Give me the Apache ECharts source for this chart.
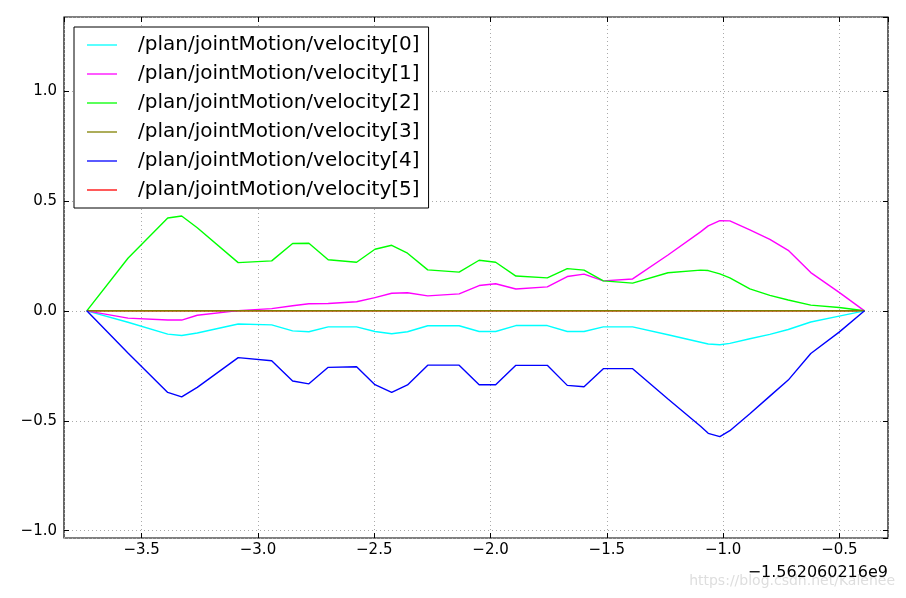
<!DOCTYPE html>
<html>
<head>
<meta charset="utf-8">
<script src="https://cdn.jsdelivr.net/npm/echarts@6/dist/echarts.min.js"></script>
<style>
html,body{margin:0;padding:0;background:#fff;}
#chart{width:906px;height:598px;}
</style>
</head>
<body>
<div id="chart"></div>
<script>
// time offsets (seconds, relative to -1.562060216e9)
var times = [-3.736, -3.559, -3.388, -3.328, -3.261, -3.085, -2.941, -2.851, -2.781, -2.698,
  -2.576, -2.497, -2.425, -2.357, -2.270, -2.135, -2.049, -1.978, -1.891, -1.756,
  -1.670, -1.598, -1.515, -1.389, -1.237, -1.097, -1.064, -1.014, -0.971, -0.885,
  -0.799, -0.720, -0.623, -0.501, -0.392];

var names = ['/plan/jointMotion/velocity[0]', '/plan/jointMotion/velocity[1]',
  '/plan/jointMotion/velocity[2]', '/plan/jointMotion/velocity[3]',
  '/plan/jointMotion/velocity[4]', '/plan/jointMotion/velocity[5]'];

var vel0 = [0, -0.052, -0.106, -0.112, -0.101, -0.060, -0.064, -0.091, -0.095, -0.073,
  -0.073, -0.094, -0.104, -0.095, -0.068, -0.068, -0.094, -0.094, -0.067, -0.067,
  -0.094, -0.094, -0.073, -0.073, -0.109, -0.143, -0.151, -0.154, -0.148, -0.127,
  -0.107, -0.085, -0.051, -0.024, 0];
var vel1 = [0, -0.033, -0.042, -0.042, -0.020, 0.001, 0.010, 0.023, 0.032, 0.033,
  0.041, 0.060, 0.080, 0.082, 0.068, 0.077, 0.115, 0.123, 0.099, 0.109,
  0.156, 0.167, 0.136, 0.145, 0.254, 0.359, 0.386, 0.410, 0.409, 0.368,
  0.325, 0.275, 0.174, 0.084, 0];
var vel2 = [0, 0.239, 0.422, 0.431, 0.378, 0.219, 0.227, 0.306, 0.307, 0.232,
  0.221, 0.280, 0.298, 0.262, 0.186, 0.176, 0.230, 0.221, 0.158, 0.150,
  0.192, 0.185, 0.136, 0.126, 0.173, 0.185, 0.183, 0.168, 0.150, 0.100,
  0.070, 0.049, 0.026, 0.015, 0];
var vel3 = [0, 0, 0, 0, 0, 0, 0, 0, 0, 0, 0, 0, 0, 0, 0, 0, 0, 0, 0, 0,
  0, 0, 0, 0, 0, 0, 0, 0, 0, 0, 0, 0, 0, 0, 0];
var vel4 = [0, -0.192, -0.371, -0.391, -0.348, -0.213, -0.227, -0.319, -0.332, -0.257,
  -0.254, -0.336, -0.371, -0.337, -0.247, -0.247, -0.336, -0.336, -0.248, -0.248,
  -0.339, -0.345, -0.263, -0.263, -0.401, -0.525, -0.557, -0.572, -0.545, -0.468,
  -0.388, -0.315, -0.194, -0.097, 0];
var vel5 = [0, 0, 0, 0, 0, 0, 0, 0, 0, 0, 0, 0, 0, 0, 0, 0, 0, 0, 0, 0,
  0, 0, 0, 0, 0, 0, 0, 0, 0, 0, 0, 0, 0, 0, 0];

var colors = ['#00ffff', '#ff00ff', '#00ff00', '#808000', '#0000ff', '#ff0000'];
var allVals = [vel0, vel1, vel2, vel3, vel4, vel5];

var xMin = -3.834, xMax = -0.291, yMin = -1.033, yMax = 1.336;

function fmt(v) {
  if (Math.abs(v * 2 - Math.round(v * 2)) > 1e-6) return '';
  var s = (Math.abs(v) < 1e-9 ? 0 : v).toFixed(1);
  return s.replace('-', '\u2212');
}

var FONT = 'DejaVu Sans';
var series = allVals.map(function (vals, i) {
  return {
    name: names[i],
    type: 'line',
    xAxisIndex: 0,
    yAxisIndex: 0,
    data: times.map(function (t, k) { return [t, vals[k]]; }),
    symbol: 'none',
    showSymbol: false,
    lineStyle: { color: colors[i], width: 1.4 },
    itemStyle: { color: colors[i] },
    z: i === 5 ? 1 : 2,
    animation: false
  };
});

var tickStyle = { show: true, inside: true, length: 5, lineStyle: { color: '#000', width: 1 } };
var hiddenAxisCommon = {
  axisLine: { show: false, onZero: false },
  axisLabel: { show: false },
  splitLine: { show: false },
  axisTick: tickStyle
};

var option = {
  animation: false,
  textStyle: { fontFamily: FONT },
  grid: {
    left: 64, top: 17, right: 18, bottom: 60,
    show: true, borderColor: '#000', borderWidth: 1.2, backgroundColor: 'transparent'
  },
  xAxis: [{
    type: 'value', min: xMin, max: xMax, splitNumber: 7, position: 'bottom',
    axisLine: { show: false, onZero: false },
    axisTick: tickStyle,
    axisLabel: { formatter: fmt, color: '#000', fontSize: 15, fontFamily: FONT, margin: 5,
      showMinLabel: false, showMaxLabel: false },
    splitLine: { show: true, lineStyle: { color: '#aaaaaa', width: 1, type: [1, 3] } }
  }, Object.assign({
    type: 'value', min: xMin, max: xMax, splitNumber: 7, position: 'top'
  }, hiddenAxisCommon)],
  yAxis: [{
    type: 'value', min: yMin, max: yMax, splitNumber: 5, position: 'left',
    axisLine: { show: false, onZero: false },
    axisTick: tickStyle,
    axisLabel: { formatter: fmt, color: '#000', fontSize: 15, fontFamily: FONT, margin: 7,
      showMinLabel: false, showMaxLabel: false },
    splitLine: { show: true, lineStyle: { color: '#aaaaaa', width: 1, type: [1, 3] } }
  }, Object.assign({
    type: 'value', min: yMin, max: yMax, splitNumber: 5, position: 'right'
  }, hiddenAxisCommon)],
  legend: {
    orient: 'vertical',
    left: 74, top: 27,
    padding: [8, 9, 8, 13],
    backgroundColor: '#fff',
    borderColor: '#000',
    borderWidth: 1,
    icon: 'rect',
    itemWidth: 30,
    itemHeight: 1.3,
    itemGap: 9,
    textStyle: { fontSize: 20, fontFamily: FONT, color: '#000', lineHeight: 20, padding: [0, 0, 0, 16] },
    data: names
  },
  graphic: [
    { type: 'text', z: 1, right: 11, top: 574,
      style: { text: 'https://blog.csdn.net/Kalenee', fill: '#dedede', font: '14px "DejaVu Sans"' } },
    { type: 'text', z: 10, right: 18, top: 565,
      style: { text: '\u22121.562060216e9', fill: '#000', font: '16px "DejaVu Sans"' } }
  ],
  series: series
};

var chart = echarts.init(document.getElementById('chart'), null, { renderer: 'canvas' });
chart.setOption(option);
</script>
</body>
</html>
